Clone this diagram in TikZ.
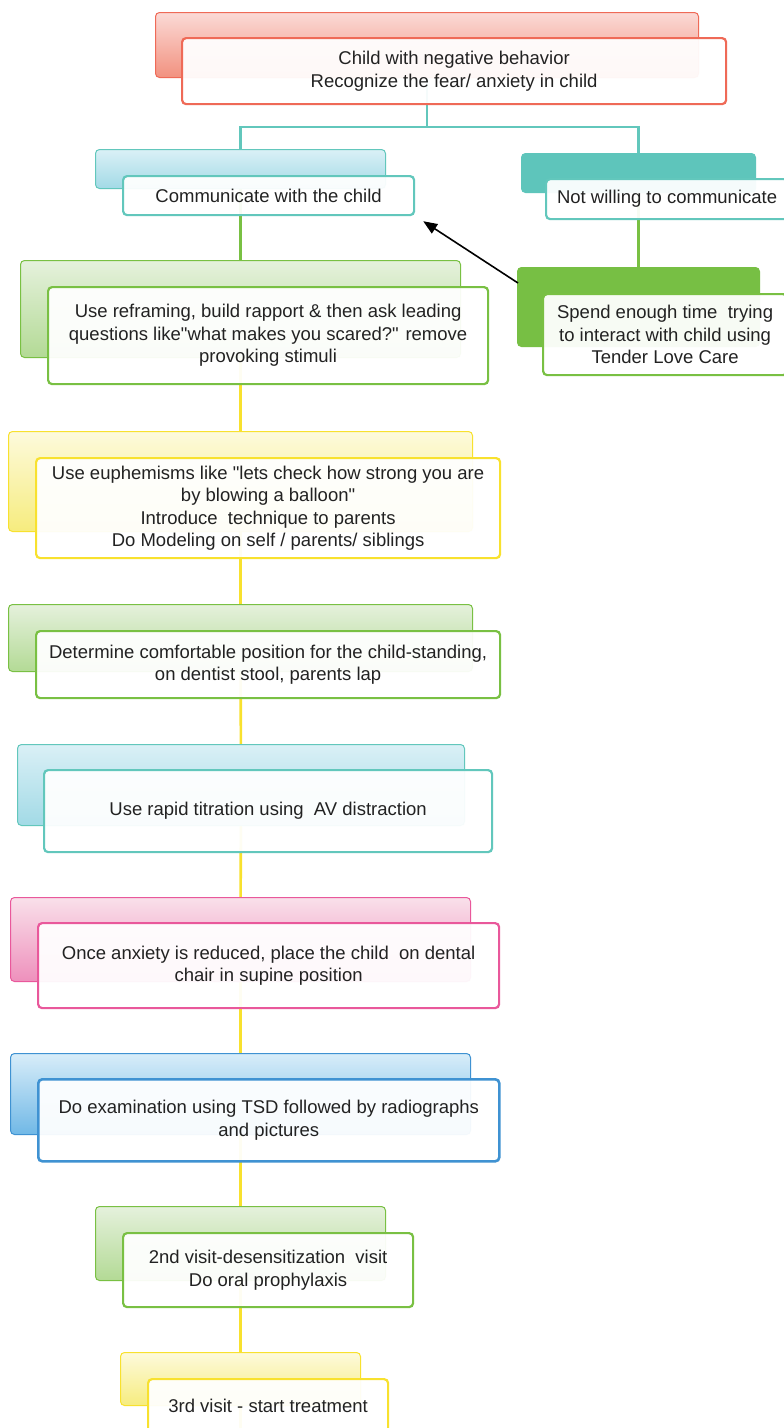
\documentclass[tikz,border=0pt]{standalone}
\usepackage{fontspec}
\setmainfont{Liberation Sans}
\usetikzlibrary{arrows.meta,calc}

% palette
\definecolor{redline}{HTML}{EF6A57}
\definecolor{redtop}{HTML}{FBDAD6}
\definecolor{redbot}{HTML}{F2917F}
\definecolor{tealline}{HTML}{62C7BC}
\definecolor{tealtop}{HTML}{DAF0F6}
\definecolor{tealbot}{HTML}{A2DAE6}
\definecolor{tealsolid}{HTML}{5EC5BB}
\definecolor{greenline}{HTML}{79C043}
\definecolor{greentop}{HTML}{E5F1DC}
\definecolor{greenbot}{HTML}{B3DA95}
\definecolor{greensolid}{HTML}{77BF44}
\definecolor{yellowline}{HTML}{F8E12E}
\definecolor{yellowtop}{HTML}{FDFADC}
\definecolor{yellowbot}{HTML}{F6EC7E}
\definecolor{pinkline}{HTML}{E9589B}
\definecolor{pinktop}{HTML}{F9E0EA}
\definecolor{pinkbot}{HTML}{EE90BC}
\definecolor{blueline}{HTML}{3F92D2}
\definecolor{bluetop}{HTML}{D8EDF9}
\definecolor{bluebot}{HTML}{70B8E6}
\definecolor{textgray}{HTML}{222222}

\pgfdeclarelayer{lines}
\pgfdeclarelayer{front}
\pgfsetlayers{lines,main,front}

\tikzset{
  backbox/.style={rounded corners=4pt, inner sep=0pt, anchor=north west, line width=1pt},
  frontbox/.style={rounded corners=4pt, inner sep=0pt, anchor=north west, line width=2.2pt,
    fill=white, fill opacity=0.94, text opacity=1, align=center, text=textgray,
    font=\fontsize{18.5}{22.5}\selectfont},
  link/.style={line width=2.6pt},
}
\newcommand{\dq}{\textquotedbl}

\begin{document}
\begin{tikzpicture}[x=1pt,y=-1pt]
\useasboundingbox (0,0) rectangle (784,1428);

% ---- back panels
\path
  (155,12)   node[backbox, draw=redline, top color=redtop, bottom color=redbot, minimum width=543pt, minimum height=65pt] (redB) {}
  (95,149)   node[backbox, draw=tealline, top color=tealtop, bottom color=tealbot, minimum width=290pt, minimum height=39pt] (commB) {}
  (521,153)  node[backbox, draw=tealsolid, fill=tealsolid, minimum width=234pt, minimum height=39pt] (notB) {}
  (517,267)  node[backbox, draw=greensolid, fill=greensolid, minimum width=242pt, minimum height=79pt] (spendB) {}
  (20,260)   node[backbox, draw=greenline, top color=greentop, bottom color=greenbot, minimum width=440pt, minimum height=97pt] (refB) {}
  (8,431)    node[backbox, draw=yellowline, top color=yellowtop, bottom color=yellowbot, minimum width=464pt, minimum height=100pt] (euphB) {}
  (8,604)    node[backbox, draw=greenline, top color=greentop, bottom color=greenbot, minimum width=464pt, minimum height=67pt] (detB) {}
  (17,744)   node[backbox, draw=tealline, top color=tealtop, bottom color=tealbot, minimum width=447pt, minimum height=81pt] (rapB) {}
  (10,897)   node[backbox, draw=pinkline, top color=pinktop, bottom color=pinkbot, minimum width=460pt, minimum height=84pt] (onceB) {}
  (10,1053)  node[backbox, draw=blueline, top color=bluetop, bottom color=bluebot, minimum width=460pt, minimum height=81pt] (examB) {}
  (95,1206)  node[backbox, draw=greenline, top color=greentop, bottom color=greenbot, minimum width=290pt, minimum height=74pt] (secB) {}
  (120,1352) node[backbox, draw=yellowline, top color=yellowtop, bottom color=yellowbot, minimum width=240pt, minimum height=53pt] (thirdB) {};

% ---- connectors, running behind the panels
\begin{pgfonlayer}{lines}
  \fill[white] (0,0) rectangle (784,1428);
  \coordinate (split) at (0,127);
  \draw[link, tealline] (redB.center) -- (redB.center |- split) -| (commB.center);
  \draw[link, tealline] (redB.center |- split) -| (notB.center);
  \draw[link, greenline] (commB.center) -- (refB.center);
  \draw[link, greenline] (notB.center) -- (spendB.center);
  \draw[link, yellowline] (refB.center) -- (euphB.center) -- (detB.center) -- (rapB.center)
     -- (onceB.center) -- (examB.center) -- (secB.center) -- (thirdB.center) -- ++(0,80);
\end{pgfonlayer}

% ---- front panels carrying the text
\begin{pgfonlayer}{front}
\path
  (181,37)   node[frontbox, draw=redline, minimum width=544pt, minimum height=66pt] (redF)
     {Child with negative behavior\\Recognize the fear/ anxiety in child}
  (122,175)  node[frontbox, draw=tealline, minimum width=291pt, minimum height=39pt] (commF)
     {Communicate with the child}
  (545,178)  node[frontbox, draw=tealline, minimum width=242pt, minimum height=40pt] (notF)
     {Not willing to communicate}
  (542,293)  node[frontbox, draw=greenline, minimum width=244pt, minimum height=81pt] (spendF)
     {Spend enough time\ \ trying\\to interact with child using\\Tender Love Care}
  (47,286)   node[frontbox, draw=greenline, minimum width=440pt, minimum height=97pt] (refF)
     {Use reframing, build rapport \& then ask leading\\questions like\dq what makes you scared?\dq{} remove\\provoking stimuli}
  (35,457)   node[frontbox, draw=yellowline, minimum width=464pt, minimum height=100pt] (euphF)
     {Use euphemisms like \dq lets check how strong you are\\by blowing a balloon\dq\\Introduce\ \ technique to parents\\Do Modeling on self / parents/ siblings}
  (35,630)   node[frontbox, draw=greenline, minimum width=464pt, minimum height=67pt] (detF)
     {Determine comfortable position for the child-standing,\\on dentist stool, parents lap}
  (43,769)   node[frontbox, draw=tealline, minimum width=448pt, minimum height=82pt] (rapF)
     {Use rapid titration using\ \ AV distraction}
  (37,922)   node[frontbox, draw=pinkline, minimum width=461pt, minimum height=85pt] (onceF)
     {Once anxiety is reduced, place the child\ \ on dental\\chair in supine position}
  (37,1078)  node[frontbox, draw=blueline, line width=2.6pt, minimum width=461pt, minimum height=82pt] (examF)
     {Do examination using TSD followed by radiographs\\and pictures}
  (122,1232) node[frontbox, draw=greenline, minimum width=290pt, minimum height=74pt] (secF)
     {2nd visit-desensitization\ \ visit\\Do oral prophylaxis}
  (147,1378) node[frontbox, draw=yellowline, minimum width=240pt, minimum height=53pt] (thirdF)
     {3rd visit - start treatment};

  % arrow back from the tender-love-care step to the communication step
  \draw[line width=1.6pt, black, -{Triangle[length=14pt, width=11pt]}]
    ($(spendB.north west)+(1,16)$) -- ($(commF.south east)+(8,5)$);
\end{pgfonlayer}
\end{tikzpicture}
\end{document}
